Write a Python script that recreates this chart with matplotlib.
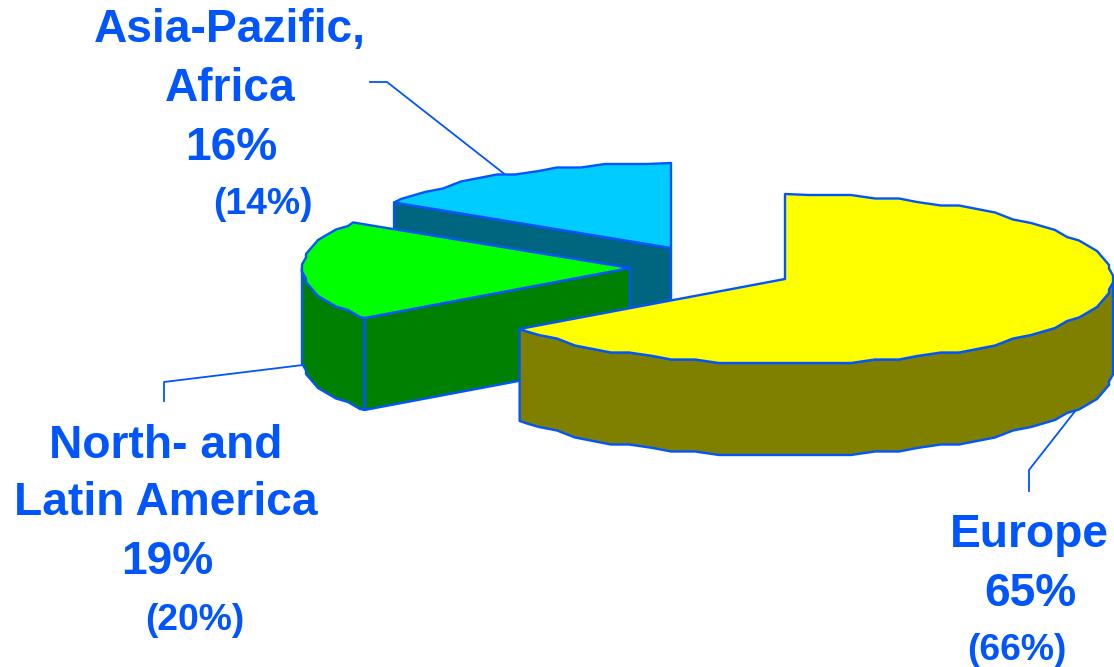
import numpy as np
import matplotlib
matplotlib.use("Agg")
import matplotlib.pyplot as plt

# Regional shares (current year) and prior-year figures in parentheses
regions = ["Europe", "North- and\nLatin America", "Asia-Pazific,\nAfrica"]
shares = [65, 19, 16]
prior_shares = [66, 20, 14]

top_colors = ["#FFFF00", "#00FF00", "#00CCFF"]
side_colors = ["#808000", "#008000", "#006680"]
INK = "#0055FF"

# Pixel-space layout of the tilted pie
CENTERS = [(785, 279), (630, 268), (671, 248)]
RX, RY, DEPTH = 328, 85, 92
ANGLE_STEP = 4.0
GRID_X, GRID_Y = 6.0, 3.5


def rim(center, a0, a1):
    """Rim between clockwise angles (deg from 12 o'clock), coarsely rounded like low-resolution device output."""
    inner = np.arange(np.ceil(a0 / ANGLE_STEP + 1e-6), np.floor(a1 / ANGLE_STEP - 1e-6) + 1) * ANGLE_STEP
    t = np.radians(inner)
    x = np.round(RX * np.sin(t) / GRID_X) * GRID_X
    y = np.round(-RY * np.cos(t) / GRID_Y) * GRID_Y
    x = np.clip(x, -RX, RX)
    ends = np.radians([a0, a1])
    ex, ey = RX * np.sin(ends), -RY * np.cos(ends)
    xs = np.concatenate([[ex[0]], x, [ex[1]]])
    ys = np.concatenate([[ey[0]], y, [ey[1]]])
    return np.column_stack([xs, ys]) + np.array(center, dtype=float)


def poly(ax, pts, face, z):
    ax.fill(pts[:, 0], pts[:, 1], facecolor=face, edgecolor=INK, linewidth=1.7,
            joinstyle="round", zorder=z)


fig = plt.figure(figsize=(11.14, 6.67), dpi=100)
ax = fig.add_axes([0, 0, 1, 1])
ax.set_xlim(0, 1114)
ax.set_ylim(667, 0)
ax.axis("off")

# Leader lines sit beneath the pie
leaders = [
    ([1029, 1029, 1076], [491, 470, 410]),
    ([164, 164, 303], [401, 382, 365]),
    ([370, 387, 507], [82, 82, 176]),
]
for lx, ly in leaders:
    ax.plot(lx, ly, color=INK, linewidth=1.3, zorder=1)

# Wedge boundaries run clockwise from 12 o'clock
edges = np.concatenate([[0], np.cumsum(shares)]) / np.sum(shares) * 360
down = np.array([0, DEPTH])

# Painter's order: back slice first, Europe last
for i in [2, 1, 0]:
    a0, a1 = edges[i], edges[i + 1]
    c = np.array(CENTERS[i], dtype=float)
    z = 2 + (2 - i) * 3
    arc = rim(c, a0, a1)

    # Outer wall: the part of the rim that faces the viewer
    v0, v1 = max(a0, 90), min(a1, 270)
    if v1 > v0:
        wall = rim(c, v0, v1)
        poly(ax, np.vstack([wall, (wall + down)[::-1]]), side_colors[i], z)

    # Cut face along the slice's leading edge, seen on the two smaller slices
    if i in (1, 2):
        p = arc[0]
        poly(ax, np.array([c, p, p + down, c + down]), side_colors[i], z)

    poly(ax, np.vstack([[c], arc]), top_colors[i], z + 1)

# Labels
FAMILY = "Liberation Sans"
BIG, SMALL = 33.2, 26.8


def label(x, y, s, size):
    ax.text(x, y, s, color=INK, fontsize=size, fontweight="bold", family=FAMILY,
            ha="center", va="baseline", zorder=20)


layouts = {
    0: dict(lines=[(1029, 547)], pct=(1030, 606), prev=(1017, 660)),
    1: dict(lines=[(166, 458), (166, 515)], pct=(167, 574), prev=(195, 630)),
    2: dict(lines=[(230, 42), (230, 101)], pct=(231, 160), prev=(263, 214)),
}
for i, name in enumerate(regions):
    spec = layouts[i]
    for (x, y), line in zip(spec["lines"], name.split("\n")):
        label(x, y, line, BIG)
    label(*spec["pct"], f"{shares[i]}%", BIG)
    label(*spec["prev"], f"({prior_shares[i]}%)", SMALL)

fig.savefig("out.png", dpi=100, facecolor="white")
